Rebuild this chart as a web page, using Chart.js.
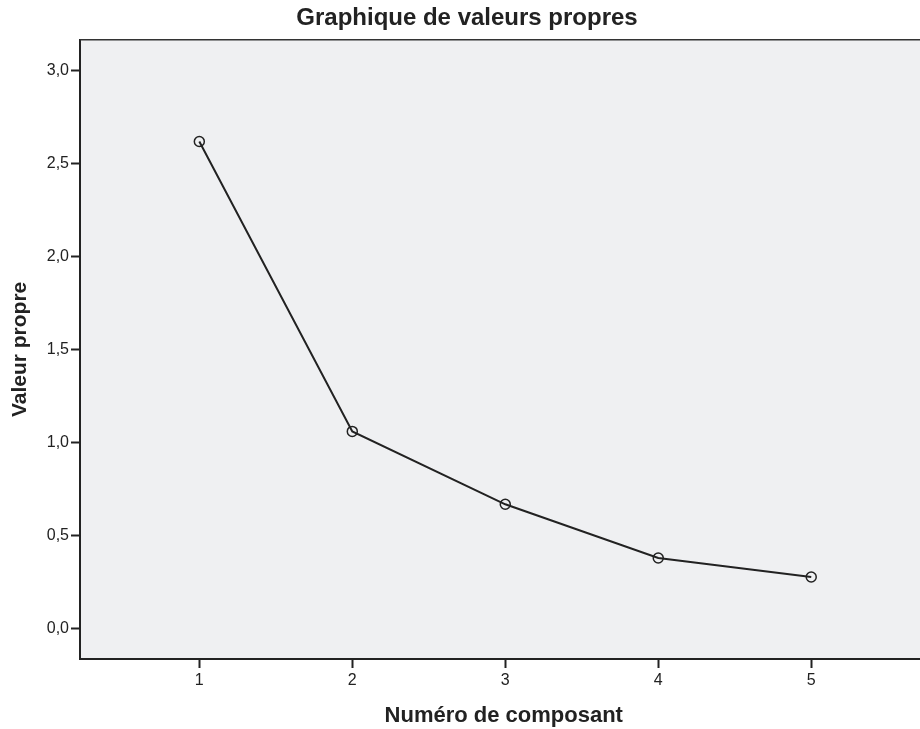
<!DOCTYPE html>
<html>
<head>
<meta charset="utf-8">
<script src="https://cdn.jsdelivr.net/npm/chart.js@4/dist/chart.umd.min.js"></script>
<style>
html,body{margin:0;padding:0;background:#fff;overflow:hidden;}
#wrap{width:920px;height:729px;position:relative;overflow:hidden;}
#c{display:block;}
</style>
</head>
<body>
<div id="wrap"><canvas id="c" width="934" height="729"></canvas></div>
<script>
const components = [1, 2, 3, 4, 5];
const eigenvalues = [2.618, 1.059, 0.667, 0.378, 0.276];
const xTicks = [1, 2, 3, 4, 5];
const yTicks = [0, 0.5, 1.0, 1.5, 2.0, 2.5, 3.0];

const FONT = "'Liberation Sans', Arial, sans-serif";
const INK = '#222222';

const plotBg = {
  id: 'plotBg',
  beforeDraw(chart) {
    const {ctx, chartArea: a} = chart;
    ctx.save();
    ctx.fillStyle = '#eff0f2';
    ctx.fillRect(a.left, a.top, a.right - a.left, a.bottom - a.top);
    ctx.restore();
  },
  afterDatasetsDraw(chart) {
    const {ctx, chartArea: a} = chart;
    ctx.save();
    ctx.strokeStyle = '#333';
    ctx.lineWidth = 1.5;
    ctx.beginPath();
    ctx.moveTo(a.left, a.top);
    ctx.lineTo(a.right, a.top);
    ctx.stroke();
    ctx.restore();
  }
};

new Chart(document.getElementById('c'), {
  type: 'line',
  data: {
    datasets: [{
      data: components.map((c, i) => ({x: c, y: eigenvalues[i]})),
      borderColor: INK,
      borderWidth: 2,
      pointStyle: 'circle',
      pointRadius: 5,
      pointBorderWidth: 1.5,
      pointBorderColor: INK,
      pointBackgroundColor: 'rgba(0,0,0,0)',
      tension: 0,
      fill: false
    }]
  },
  options: {
    responsive: false,
    animation: false,
    devicePixelRatio: 1,
    layout: {padding: {left: 0, right: 0, top: 0, bottom: 0}},
    plugins: {
      legend: {display: false},
      tooltip: {enabled: false},
      title: {
        display: true,
        text: 'Graphique de valeurs propres',
        color: INK,
        font: {family: FONT, size: 24, weight: 'bold'},
        padding: {top: 4, bottom: 7}
      }
    },
    scales: {
      x: {
        type: 'linear',
        min: 0.22,
        max: 5.76,
        afterBuildTicks(scale) { scale.ticks = xTicks.map(v => ({value: v})); },
        afterFit(scale) { scale.height = 70; scale.paddingLeft = 0; scale.paddingRight = 0; },
        grid: {drawOnChartArea: false, drawTicks: true, tickLength: 9, tickColor: INK, tickWidth: 2},
        border: {display: true, color: INK, width: 2},
        ticks: {color: INK, font: {family: FONT, size: 16}, padding: 3, maxRotation: 0,
          callback: v => String(v)},
        title: {display: true, text: 'Numéro de composant', color: INK,
          font: {family: FONT, size: 22, weight: 'bold'}, padding: {top: 0, bottom: 0}}
      },
      y: {
        type: 'linear',
        min: -0.165,
        max: 3.165,
        afterBuildTicks(scale) { scale.ticks = yTicks.map(v => ({value: v})); },
        afterFit(scale) { scale.width = 80; scale.paddingTop = 0; scale.paddingBottom = 0; },
        grid: {drawOnChartArea: false, drawTicks: true, tickLength: 9, tickColor: INK, tickWidth: 2},
        border: {display: true, color: INK, width: 2},
        ticks: {color: INK, font: {family: FONT, size: 16}, padding: 2,
          callback: v => v.toFixed(1).replace('.', ',')},
        title: {display: true, text: 'Valeur propre', color: INK,
          font: {family: FONT, size: 21, weight: 'bold'}, padding: {top: 7.5, bottom: 0}}
      }
    }
  },
  plugins: [plotBg]
});
</script>
</body>
</html>
